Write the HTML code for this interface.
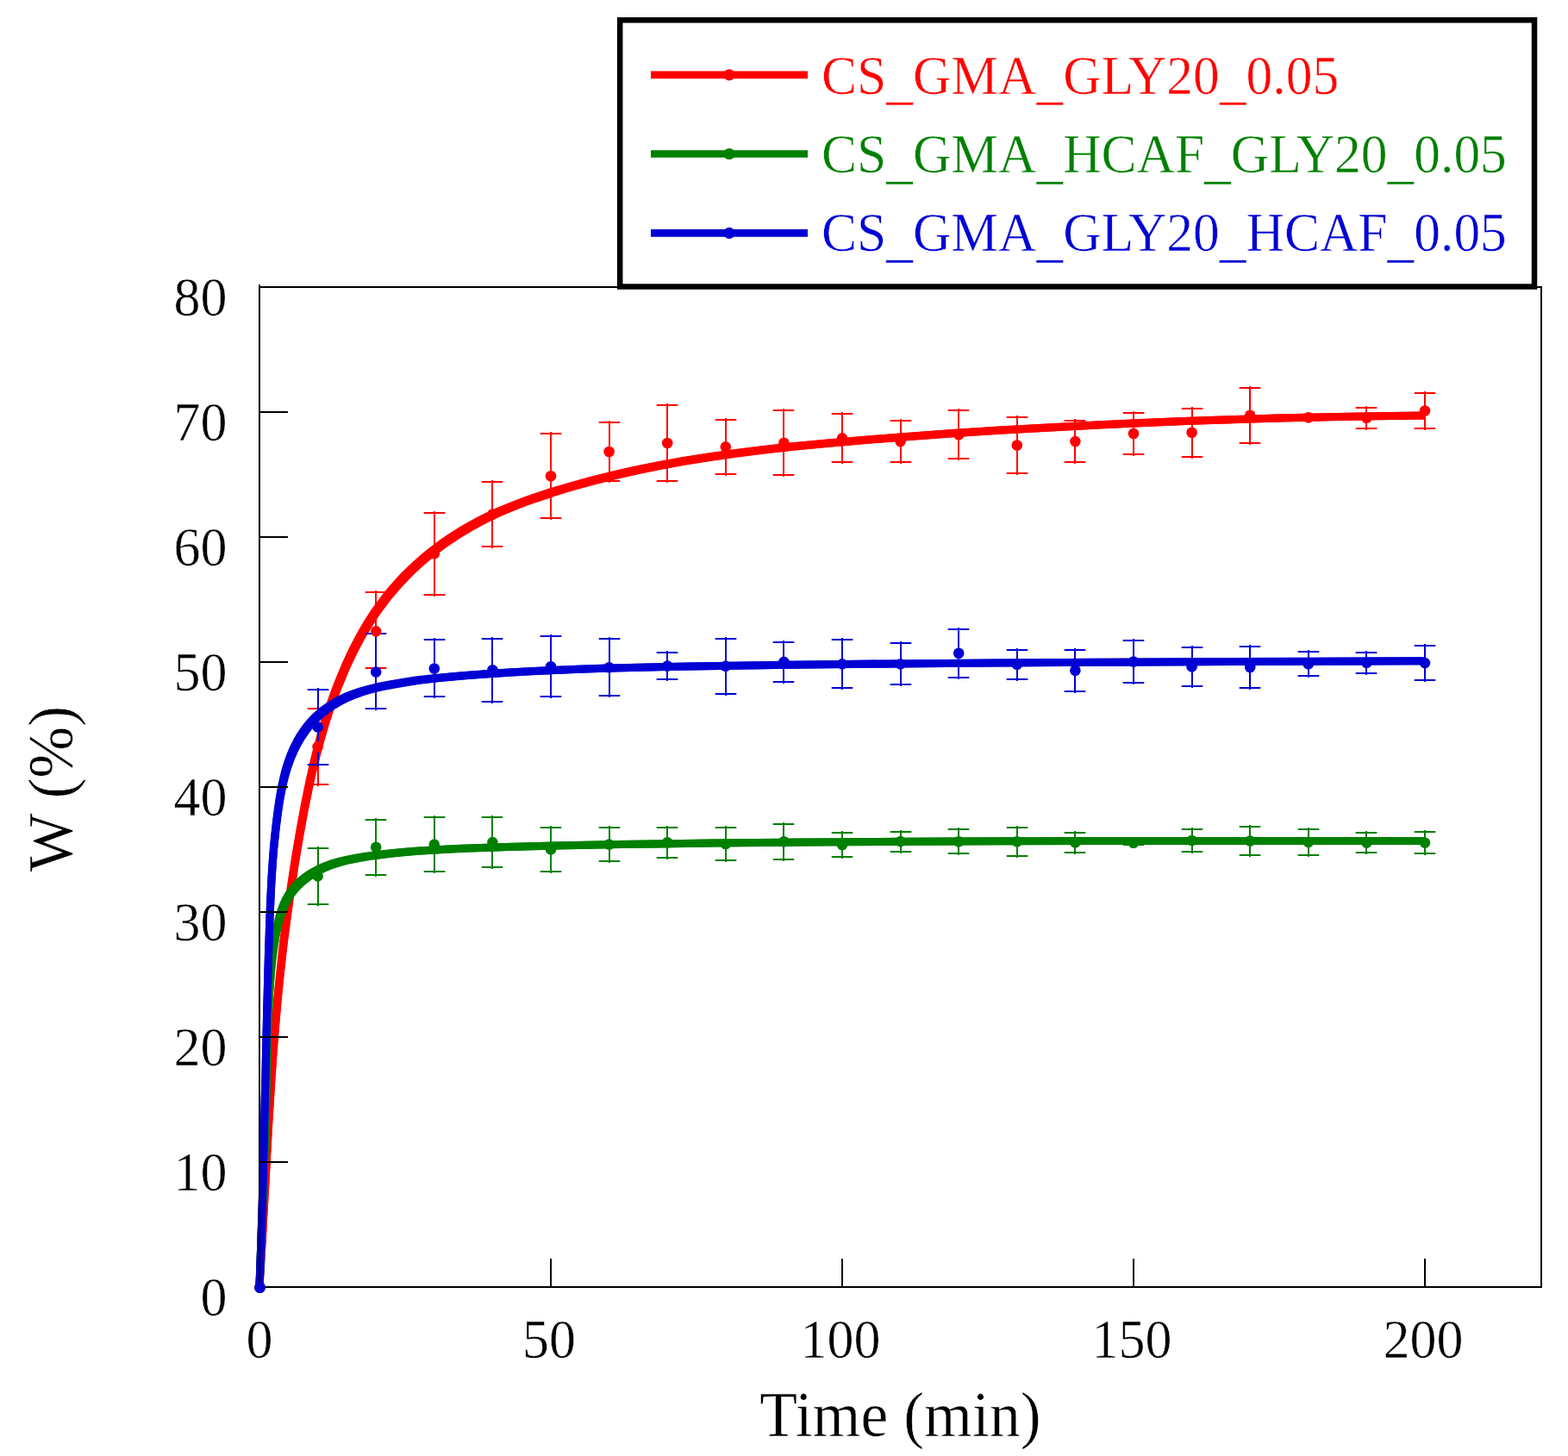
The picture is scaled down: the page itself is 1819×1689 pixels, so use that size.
<!DOCTYPE html><html><head><meta charset="utf-8"><style>html,body{margin:0;padding:0;background:#fff;width:1819px;height:1689px;overflow:hidden}svg{display:block}text{font-family:"Liberation Serif","Times New Roman",serif;stroke:#fff;stroke-width:0.5px}</style></head><body>
<svg width="1819" height="1689" viewBox="0 0 1819 1689">
<rect width="1819" height="1689" fill="#fff"/>
<defs><path id="cr" d="M300.9,1492.9 L304.4,1434.0 L311.6,1303.4 L314.8,1251.6 L317.1,1218.5 L319.6,1187.5 L322.1,1158.6 L324.9,1130.7 L328.5,1097.8 L332.7,1064.9 L337.3,1032.0 L342.3,999.2 L348.0,965.4 L353.5,935.7 L358.9,909.2 L364.4,884.9 L367.4,872.8 L370.3,861.8 L376.3,840.8 L379.4,830.9 L382.6,821.1 L386.0,811.3 L389.5,801.6 L393.3,792.0 L396.8,783.4 L400.8,773.8 L404.7,765.3 L408.7,756.9 L412.9,748.6 L417.2,740.3 L421.3,733.1 L425.5,726.0 L429.9,719.0 L434.4,712.0 L439.2,705.2 L443.5,699.4 L448.5,692.8 L453.8,686.4 L459.2,680.1 L464.7,674.0 L470.4,668.0 L476.3,662.1 L482.4,656.4 L488.5,650.9 L494.9,645.5 L501.3,640.3 L507.9,635.2 L514.6,630.3 L521.4,625.6 L528.4,621.0 L536.3,616.1 L543.4,611.8 L550.7,607.8 L558.0,603.9 L566.4,599.7 L573.9,596.2 L582.4,592.4 L591.0,588.8 L599.7,585.3 L609.4,581.6 L619.2,578.2 L639.9,571.3 L651.8,567.6 L663.7,564.1 L687.7,557.5 L712.8,551.2 L739.0,545.3 L766.4,539.7 L793.9,534.8 L822.6,530.2 L852.4,525.9 L884.3,521.9 L919.4,518.0 L956.7,514.4 L999.2,510.7 L1053.0,506.5 L1106.9,502.6 L1161.7,499.0 L1216.6,495.9 L1268.3,493.2 L1321.1,490.7 L1373.9,488.6 L1427.8,486.7 L1482.7,485.1 L1538.8,483.8 L1594.9,482.7 L1653.2,481.9"/><path id="cg" d="M301.1,1493.0 L302.5,1451.8 L306.2,1356.0 L307.8,1313.1 L308.9,1273.7 L310.3,1205.6 L311.4,1173.4 L312.7,1149.2 L314.3,1126.9 L316.3,1107.3 L317.4,1099.3 L318.6,1091.3 L320.3,1081.6 L322.2,1072.8 L324.2,1065.0 L326.3,1058.2 L328.8,1051.5 L331.3,1045.9 L334.3,1040.5 L337.1,1036.1 L340.9,1031.2 L345.1,1026.6 L349.7,1022.3 L355.3,1017.9 L361.1,1013.8 L367.3,1010.3 L373.6,1007.2 L380.1,1004.4 L387.6,1001.8 L395.3,999.5 L404.1,997.4 L413.8,995.5 L425.4,993.6 L438.8,991.7 L453.1,990.1 L468.3,988.6 L483.4,987.3 L499.5,986.3 L516.4,985.3 L536.9,984.3 L587.9,982.4 L644.3,980.9 L717.7,979.5 L825.3,978.1 L933.7,977.0 L1048.4,976.2 L1161.2,975.7 L1285.7,975.5 L1653.0,975.4"/><path id="cb" d="M301.0,1492.9 L302.8,1443.8 L304.4,1390.7 L305.9,1332.6 L310.0,1161.0 L311.5,1106.9 L313.1,1060.8 L314.7,1025.5 L315.6,1010.8 L316.6,996.0 L317.7,982.3 L319.0,969.5 L320.4,956.7 L322.0,943.9 L324.0,930.1 L326.2,917.4 L328.5,906.7 L331.1,896.1 L334.0,886.7 L337.3,877.5 L340.8,869.4 L344.8,861.5 L349.2,853.9 L354.1,846.7 L357.1,842.8 L359.6,839.8 L364.8,834.1 L367.6,831.4 L371.2,828.2 L374.2,825.7 L378.1,822.7 L385.3,817.8 L392.9,813.3 L400.8,809.4 L405.3,807.5 L409.8,805.7 L419.2,802.4 L429.7,799.4 L441.3,796.6 L455.0,793.9 L469.7,791.4 L485.3,789.1 L501.0,787.2 L518.6,785.4 L538.2,783.7 L561.7,782.0 L588.2,780.3 L614.8,778.8 L642.3,777.5 L671.8,776.3 L700.3,775.3 L730.9,774.4 L800.8,773.0 L914.2,771.3 L1037.3,769.9 L1155.5,768.9 L1286.5,768.2 L1429.3,767.6 L1653.0,766.8"/><clipPath id="cc"><rect x="280" y="300" width="1373.5" height="1220"/></clipPath></defs>
<g fill="none" stroke="#ff0000" stroke-linejoin="round" stroke-linecap="round" clip-path="url(#cc)"><use href="#cr" stroke-width="9.0" stroke-linecap="butt"/><use href="#cr" stroke-width="2.4" transform="translate(3.3,3.3)"/><use href="#cr" stroke-width="2.4" transform="translate(-3.3,-3.3)"/></g>
<path d="M369,820V912M356.7,822H381.3M356.7,910H381.3M436,685V777M423.7,687H448.3M423.7,775H448.3M504,593V692M491.7,595H516.3M491.7,690H516.3M571,557V636M558.7,559H583.3M558.7,634H583.3M639,501V603M626.7,503H651.3M626.7,601H651.3M707,488V560M694.7,490H719.3M694.7,558H719.3M774,468V560M761.7,470H786.3M761.7,558H786.3M842,485V552M829.7,487H854.3M829.7,550H854.3M909,474V553M896.7,476H921.3M896.7,551H921.3M977,478V538M964.7,480H989.3M964.7,536H989.3M1045,486V538M1032.7,488H1057.3M1032.7,536H1057.3M1112,474V534M1099.7,476H1124.3M1099.7,532H1124.3M1180,482V551M1167.7,484H1192.3M1167.7,549H1192.3M1247,486V538M1234.7,488H1259.3M1234.7,536H1259.3M1315,477V529M1302.7,479H1327.3M1302.7,527H1327.3M1383,472V532M1370.7,474H1395.3M1370.7,530H1395.3M1450,448V516M1437.7,450H1462.3M1437.7,514H1462.3M1518,480V489M1505.7,482H1530.3M1505.7,487H1530.3M1585,471V499M1572.7,473H1597.3M1572.7,497H1597.3M1653,454V499M1640.7,456H1665.3M1640.7,497H1665.3" fill="none" stroke="#ff0000" stroke-width="2"/>
<g fill="none" stroke="#008000" stroke-linejoin="round" stroke-linecap="round" clip-path="url(#cc)"><use href="#cg" stroke-width="9.0" stroke-linecap="butt"/><use href="#cg" stroke-width="2.4" transform="translate(3.3,3.3)"/><use href="#cg" stroke-width="2.4" transform="translate(-3.3,-3.3)"/></g>
<path d="M369,982V1051M356.7,984H381.3M356.7,1049H381.3M436,949V1017M423.7,951H448.3M423.7,1015H448.3M504,946V1013M491.7,948H516.3M491.7,1011H516.3M571,946V1008M558.7,948H583.3M558.7,1006H583.3M639,958V1013M626.7,960H651.3M626.7,1011H651.3M707,958V1001M694.7,960H719.3M694.7,999H719.3M774,958V997M761.7,960H786.3M761.7,995H786.3M842,958V1000M829.7,960H854.3M829.7,998H854.3M909,954V999M896.7,956H921.3M896.7,997H921.3M977,964V996M964.7,966H989.3M964.7,994H989.3M1045,963V990M1032.7,965H1057.3M1032.7,988H1057.3M1112,960V992M1099.7,962H1124.3M1099.7,990H1124.3M1180,958V995M1167.7,960H1192.3M1167.7,993H1192.3M1247,964V991M1234.7,966H1259.3M1234.7,989H1259.3M1315,974V982M1302.7,976H1327.3M1302.7,980H1327.3M1383,960V990M1370.7,962H1395.3M1370.7,988H1395.3M1450,957V994M1437.7,959H1462.3M1437.7,992H1462.3M1518,960V994M1505.7,962H1530.3M1505.7,992H1530.3M1585,964V991M1572.7,966H1597.3M1572.7,989H1597.3M1653,963V992M1640.7,965H1665.3M1640.7,990H1665.3" fill="none" stroke="#008000" stroke-width="2"/>
<g fill="none" stroke="#0000d4" stroke-linejoin="round" stroke-linecap="round" clip-path="url(#cc)"><use href="#cb" stroke-width="9.0" stroke-linecap="butt"/><use href="#cb" stroke-width="2.4" transform="translate(3.3,3.3)"/><use href="#cb" stroke-width="2.4" transform="translate(-3.3,-3.3)"/></g>
<path d="M369,798V889M356.7,800H381.3M356.7,887H381.3M436,733V824M423.7,735H448.3M423.7,822H448.3M504,740V810M491.7,742H516.3M491.7,808H516.3M571,739V816M558.7,741H583.3M558.7,814H583.3M639,736V810M626.7,738H651.3M626.7,808H651.3M707,739V809M694.7,741H719.3M694.7,807H719.3M774,755V790M761.7,757H786.3M761.7,788H786.3M842,739V807M829.7,741H854.3M829.7,805H854.3M909,743V793M896.7,745H921.3M896.7,791H921.3M977,740V800M964.7,742H989.3M964.7,798H989.3M1045,744V796M1032.7,746H1057.3M1032.7,794H1057.3M1112,728V788M1099.7,730H1124.3M1099.7,786H1124.3M1180,752V790M1167.7,754H1192.3M1167.7,788H1192.3M1247,752V804M1234.7,754H1259.3M1234.7,802H1259.3M1315,741V794M1302.7,743H1327.3M1302.7,792H1327.3M1383,749V798M1370.7,751H1395.3M1370.7,796H1395.3M1450,748V800M1437.7,750H1462.3M1437.7,798H1462.3M1518,754V786M1505.7,756H1530.3M1505.7,784H1530.3M1585,755V783M1572.7,757H1597.3M1572.7,781H1597.3M1653,747V791M1640.7,749H1665.3M1640.7,789H1665.3" fill="none" stroke="#0000d4" stroke-width="2"/>
<g fill="#ff0000"><circle cx="368.6" cy="866.3" r="6.3"/><circle cx="436.2" cy="732.4" r="6.3"/><circle cx="503.8" cy="642.2" r="6.3"/><circle cx="571.4" cy="596.5" r="6.3"/><circle cx="639.0" cy="552.2" r="6.3"/><circle cx="706.6" cy="524.0" r="6.3"/><circle cx="774.2" cy="514.0" r="6.3"/><circle cx="841.8" cy="518.4" r="6.3"/><circle cx="909.4" cy="513.7" r="6.3"/><circle cx="977.0" cy="508.4" r="6.3"/><circle cx="1044.6" cy="512.1" r="6.3"/><circle cx="1112.2" cy="504.3" r="6.3"/><circle cx="1179.8" cy="516.5" r="6.3"/><circle cx="1247.4" cy="512.1" r="6.3"/><circle cx="1315.0" cy="503.0" r="6.3"/><circle cx="1382.6" cy="501.7" r="6.3"/><circle cx="1450.2" cy="481.7" r="6.3"/><circle cx="1517.8" cy="484.4" r="6.3"/><circle cx="1585.4" cy="484.7" r="6.3"/><circle cx="1653.0" cy="476.5" r="6.3"/><circle cx="301.5" cy="1493.5" r="6.3"/></g>
<g fill="#008000"><circle cx="368.6" cy="1016.4" r="6.3"/><circle cx="436.2" cy="982.8" r="6.3"/><circle cx="503.8" cy="979.6" r="6.3"/><circle cx="571.4" cy="977.1" r="6.3"/><circle cx="639.0" cy="985.4" r="6.3"/><circle cx="706.6" cy="979.5" r="6.3"/><circle cx="774.2" cy="977.3" r="6.3"/><circle cx="841.8" cy="979.0" r="6.3"/><circle cx="909.4" cy="976.3" r="6.3"/><circle cx="977.0" cy="980.0" r="6.3"/><circle cx="1044.6" cy="976.1" r="6.3"/><circle cx="1112.2" cy="976.2" r="6.3"/><circle cx="1179.8" cy="976.2" r="6.3"/><circle cx="1247.4" cy="977.3" r="6.3"/><circle cx="1315.0" cy="977.7" r="6.3"/><circle cx="1382.6" cy="975.0" r="6.3"/><circle cx="1450.2" cy="975.5" r="6.3"/><circle cx="1517.8" cy="976.9" r="6.3"/><circle cx="1585.4" cy="977.6" r="6.3"/><circle cx="1653.0" cy="977.6" r="6.3"/><circle cx="301.5" cy="1493.5" r="6.3"/></g>
<g fill="#0000d4"><circle cx="368.6" cy="843.4" r="6.3"/><circle cx="436.2" cy="779.5" r="6.3"/><circle cx="503.8" cy="775.5" r="6.3"/><circle cx="571.4" cy="777.3" r="6.3"/><circle cx="639.0" cy="773.3" r="6.3"/><circle cx="706.6" cy="774.2" r="6.3"/><circle cx="774.2" cy="772.5" r="6.3"/><circle cx="841.8" cy="772.8" r="6.3"/><circle cx="909.4" cy="767.9" r="6.3"/><circle cx="977.0" cy="770.4" r="6.3"/><circle cx="1044.6" cy="770.4" r="6.3"/><circle cx="1112.2" cy="757.8" r="6.3"/><circle cx="1179.8" cy="770.8" r="6.3"/><circle cx="1247.4" cy="777.8" r="6.3"/><circle cx="1315.0" cy="767.5" r="6.3"/><circle cx="1382.6" cy="773.4" r="6.3"/><circle cx="1450.2" cy="774.0" r="6.3"/><circle cx="1517.8" cy="770.3" r="6.3"/><circle cx="1585.4" cy="768.9" r="6.3"/><circle cx="1653.0" cy="769.1" r="6.3"/><circle cx="301.5" cy="1493.5" r="6.3"/></g>
<g stroke="#000" stroke-width="2" fill="none" shape-rendering="crispEdges">
<path d="M301,330V1494M300,1493H1789M300,333H1789M1788,332V1494"/>
<path d="M302,1348H334M302,1203H334M302,1058H334M302,913H334M302,768H334M302,623H334M302,478H334M302,333H334M639,1492V1460M977,1492V1460M1315,1492V1460M1653,1492V1460"/>
</g>
<circle cx="301.5" cy="1493.5" r="6.3" fill="#0000d4"/>
<text transform="translate(263.4,1525.5) scale(1,1.025)" font-size="62" text-anchor="end">0</text>
<text transform="translate(263.4,1380.5) scale(1,1.025)" font-size="62" text-anchor="end">10</text>
<text transform="translate(263.4,1235.5) scale(1,1.025)" font-size="62" text-anchor="end">20</text>
<text transform="translate(263.4,1090.5) scale(1,1.025)" font-size="62" text-anchor="end">30</text>
<text transform="translate(263.4,945.5) scale(1,1.025)" font-size="62" text-anchor="end">40</text>
<text transform="translate(263.4,800.5) scale(1,1.025)" font-size="62" text-anchor="end">50</text>
<text transform="translate(263.4,655.5) scale(1,1.025)" font-size="62" text-anchor="end">60</text>
<text transform="translate(263.4,510.5) scale(1,1.025)" font-size="62" text-anchor="end">70</text>
<text transform="translate(263.4,365.5) scale(1,1.025)" font-size="62" text-anchor="end">80</text>
<text transform="translate(301,1574.5) scale(1,1.025)" font-size="62" text-anchor="middle">0</text>
<text transform="translate(637,1574.5) scale(1,1.025)" font-size="62" text-anchor="middle">50</text>
<text transform="translate(975,1574.5) scale(1,1.025)" font-size="62" text-anchor="middle">100</text>
<text transform="translate(1313,1574.5) scale(1,1.025)" font-size="62" text-anchor="middle">150</text>
<text transform="translate(1651,1574.5) scale(1,1.025)" font-size="62" text-anchor="middle">200</text>
<text transform="translate(1044.5,1666) scale(1,1.025)" font-size="71.8" text-anchor="middle">Time (min)</text>
<text transform="translate(84,915) rotate(-90) scale(1,1.018)" font-size="71.9" text-anchor="middle">W (%)</text>
<rect x="719.2" y="23.3" width="1060.8" height="309.2" fill="#fff" stroke="#000" stroke-width="6.5"/>
<path d="M755,86.9H937" stroke="#ff0000" stroke-width="8.6"/>
<circle cx="846" cy="86.9" r="6.6" fill="#ff0000"/>
<text transform="translate(953,108.5) scale(1,1.045)" font-size="61.5" fill="#ff0000"><tspan>CS</tspan><tspan dy="5.5">_</tspan><tspan dy="-5.5">GMA</tspan><tspan dy="5.5">_</tspan><tspan dy="-5.5">GLY20</tspan><tspan dy="5.5">_</tspan><tspan dy="-5.5">0.05</tspan></text>
<path d="M755,178.5H937" stroke="#008000" stroke-width="8.6"/>
<circle cx="846" cy="178.5" r="6.6" fill="#008000"/>
<text transform="translate(953,199.9) scale(1,1.045)" font-size="61.5" fill="#008000"><tspan>CS</tspan><tspan dy="5.5">_</tspan><tspan dy="-5.5">GMA</tspan><tspan dy="5.5">_</tspan><tspan dy="-5.5">HCAF</tspan><tspan dy="5.5">_</tspan><tspan dy="-5.5">GLY20</tspan><tspan dy="5.5">_</tspan><tspan dy="-5.5">0.05</tspan></text>
<path d="M755,270.4H937" stroke="#0000d4" stroke-width="8.6"/>
<circle cx="846" cy="270.4" r="6.6" fill="#0000d4"/>
<text transform="translate(953,291.3) scale(1,1.045)" font-size="61.5" fill="#0000d4"><tspan>CS</tspan><tspan dy="5.5">_</tspan><tspan dy="-5.5">GMA</tspan><tspan dy="5.5">_</tspan><tspan dy="-5.5">GLY20</tspan><tspan dy="5.5">_</tspan><tspan dy="-5.5">HCAF</tspan><tspan dy="5.5">_</tspan><tspan dy="-5.5">0.05</tspan></text>
</svg></body></html>
